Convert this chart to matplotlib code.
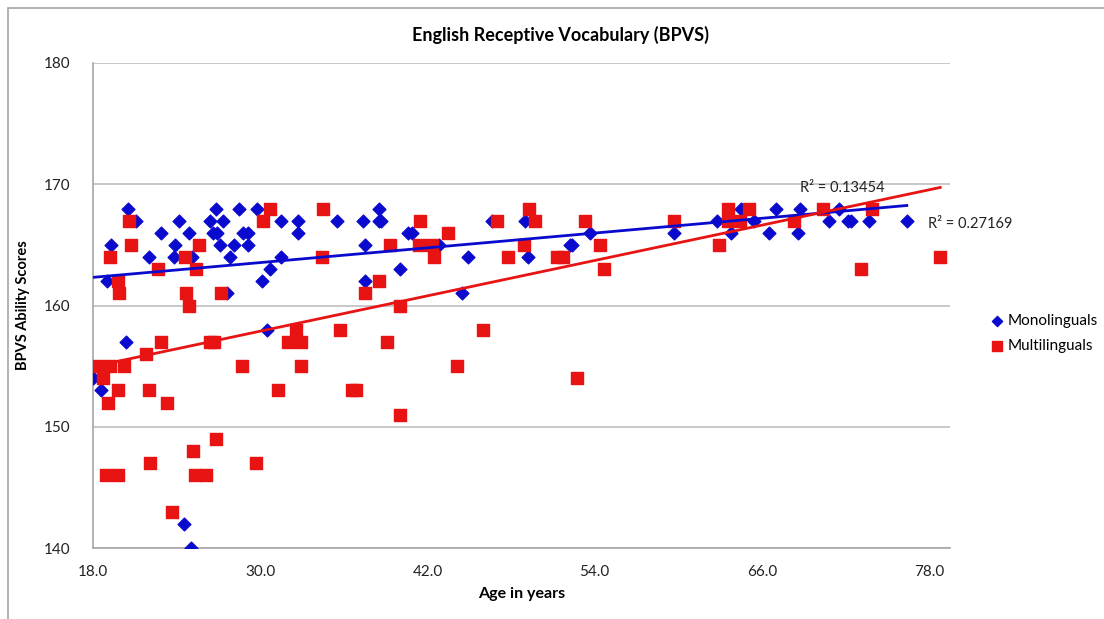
import matplotlib
matplotlib.use("Agg")
import matplotlib.pyplot as plt
from matplotlib.patches import Rectangle
import numpy as np

plt.rcParams['font.family'] = ['Lato', 'DejaVu Sans']

# monolinguals: age, BPVS score
mono_age = [18.0, 18.6, 19.0, 19.3, 20.4, 20.5, 21.1, 22.0, 22.9, 23.8, 23.9, 24.2,
            24.5, 24.9, 25.0, 25.1, 26.4, 26.6, 26.8, 26.9, 27.1, 27.3, 27.6, 27.8,
            28.1, 28.5, 28.75, 29.1, 29.1, 29.8, 30.1, 30.5, 30.7, 31.5, 31.5, 32.7,
            32.7, 35.5, 37.4, 37.5, 37.5, 38.5, 38.5, 38.7, 40.0, 40.6, 40.9, 42.8,
            44.5, 44.9, 46.6, 49.0, 49.2, 52.2, 52.4, 53.7, 59.7, 62.8, 63.8, 64.5,
            65.4, 66.5, 67.0, 68.6, 68.7, 70.8, 71.5, 72.2, 72.4, 73.7, 76.4]
mono_score = [154, 153, 162, 165, 157, 168, 167, 164, 166, 164, 165, 167,
              142, 166, 140, 164, 167, 166, 168, 166, 165, 167, 161, 164,
              165, 168, 166, 166, 165, 168, 162, 158, 163, 167, 164, 167,
              166, 167, 167, 165, 162, 168, 167, 167, 163, 166, 166, 165,
              161, 164, 167, 167, 164, 165, 165, 166, 166, 167, 166, 168,
              167, 166, 168, 166, 168, 167, 168, 167, 167, 167, 167]

# multilinguals: age, BPVS score
multi_age = [18.3, 18.7, 19.1, 18.9, 19.2, 19.2, 19.8, 19.8, 19.8, 19.9, 20.2, 20.6,
             20.7, 21.8, 22.0, 22.1, 22.7, 22.9, 23.3, 23.7, 24.6, 24.7, 24.9, 25.2,
             25.3, 25.4, 25.6, 26.1, 26.4, 26.7, 26.8, 27.2, 28.7, 29.7, 30.2, 30.7,
             31.3, 32.0, 32.6, 32.9, 32.9, 34.4, 34.5, 35.7, 36.6, 36.9, 37.5, 38.5,
             39.1, 39.3, 40.0, 40.0, 41.4, 41.5, 42.3, 42.5, 43.5, 44.1, 46.0, 47.0,
             47.8, 48.9, 49.3, 49.7, 51.3, 51.7, 52.7, 53.3, 54.4, 54.7, 59.7, 62.9,
             63.6, 63.6, 64.4, 65.1, 68.3, 70.4, 73.1, 73.9, 78.8]
multi_score = [155, 154, 152, 146, 164, 155, 162, 153, 146, 161, 155, 167,
               165, 156, 153, 147, 163, 157, 152, 143, 164, 161, 160, 148,
               146, 163, 165, 146, 157, 157, 149, 161, 155, 147, 167, 168,
               153, 157, 158, 157, 155, 164, 168, 158, 153, 153, 161, 162,
               157, 165, 160, 151, 165, 167, 165, 164, 166, 155, 158, 167,
               164, 165, 168, 167, 164, 164, 154, 167, 165, 163, 167, 165,
               168, 167, 167, 168, 167, 168, 163, 168, 164]

xticks = [18, 30, 42, 54, 66, 78]
yticks = [140, 150, 160, 170, 180]

blue = '#0A0ACF'
red = '#E81414'

W, H = 1104, 619
fig = plt.figure(figsize=(W / 100, H / 100), dpi=100)
ax = fig.add_axes([93/W, 1 - 548/H, (950 - 93)/W, (548 - 63)/H])

# outer chart frame
fig.patches.append(Rectangle((8/W, -0.1), 1.2, 1 - 8/H + 0.1, transform=fig.transFigure,
                             fill=False, edgecolor='#A6A6A6', linewidth=1.2))

ax.scatter(mono_age, mono_score, marker='D', s=42, color=blue, zorder=3, label='Monolinguals')
ax.scatter(multi_age, multi_score, marker='s', s=85, color=red, zorder=3, label='Multilinguals')

# linear trendlines
for xs, ys, c in [(mono_age, mono_score, blue), (multi_age, multi_score, red)]:
    xs = np.array(xs)
    k, b = np.polyfit(xs, ys, 1)
    xx = np.array([xs.min(), xs.max()])
    ax.plot(xx, k * xx + b, color=c, linewidth=2, zorder=4)

fig.text(800/W, 1 - 188/H, 'R² = 0.13454', fontsize=10.5, color='#222222', va='center')
fig.text(928/W, 1 - 224/H, 'R² = 0.27169', fontsize=10.5, color='#222222', va='center')

ax.set_xlim(18, 79.5)
ax.set_ylim(140, 180)
ax.set_xticks(xticks)
ax.set_xticklabels(['%.1f' % t for t in xticks])
ax.set_yticks(yticks)
ax.yaxis.grid(True, color='#BFBFBF', linewidth=1.2)
ax.set_axisbelow(True)
for s in ['top', 'right']:
    ax.spines[s].set_visible(False)
for s in ['left', 'bottom']:
    ax.spines[s].set_color('#A6A6A6')
    ax.spines[s].set_linewidth(1.2)
ax.tick_params(length=0, labelsize=11, colors='#222222', pad=12)
ax.tick_params(axis='y', pad=16)

ax.set_xlabel('Age in years', fontsize=11.5, fontweight='bold', labelpad=6)
ax.set_ylabel('BPVS Ability Scores', fontsize=10.5, fontweight='bold', labelpad=10)
fig.text(560/W, 1 - 35/H, 'English Receptive Vocabulary (BPVS)', ha='center', va='center',
         fontsize=13, fontweight='bold')

ax.legend(loc='upper left', bbox_to_anchor=(982/W, 1 - 308/H), bbox_transform=fig.transFigure,
          frameon=False, fontsize=11, handletextpad=0.1, labelspacing=0.7, markerscale=0.8,
          handlelength=1.2, borderaxespad=0)

fig.savefig('out.png', dpi=100)
